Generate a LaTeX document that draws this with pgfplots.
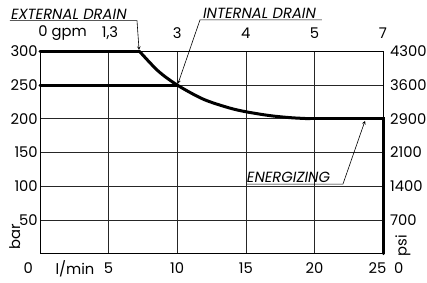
\documentclass[border=0pt]{standalone}
\usepackage{fontspec}
\setmainfont{Poppins}
\usepackage{pgfplots}
\pgfplotsset{compat=1.18}
\begin{document}
\begin{tikzpicture}[font=\fontsize{14.8}{17}\selectfont]
\begin{axis}[scale only axis, width=343bp, height=202.3bp,
  xmin=0, xmax=25, ymin=0, ymax=300,
  xtick={5,10,15,20}, ytick={50,100,150,200,250},
  xticklabels={}, yticklabels={}, major tick length=0pt,
  grid=major, grid style={black!85, line width=0.6bp},
  axis line style={black, line width=0.7bp}, clip=false]
\coordinate (SW) at (rel axis cs:0,0);
\coordinate (NE) at (rel axis cs:1,1);
% data
\addplot[black, line width=3bp, line cap=round] coordinates {(0,300) (7.25,300)};
\addplot[black, line width=3bp, line cap=round, smooth] coordinates {(7.25,300) (8.6,271) (10,250) (11.9,229) (13.8,216) (15.1,210) (16.8,204.5) (18.3,201.5) (19.7,200)};
\addplot[black, line width=3bp, line cap=round, line join=miter] coordinates {(19.7,200) (25,200) (25,0)};
\addplot[black, line width=3bp, line cap=round] coordinates {(0,250) (10,250)};
% left labels
\pgfplotsinvokeforeach{50,100,150,200,250,300}{
  \node[anchor=east, inner sep=0pt] at (axis cs:-0.15,#1) {#1};
}
\node[anchor=center] at (axis cs:-0.85,-22) {0};
\node[rotate=90] at (axis cs:-1.85,25) {bar};
% right labels
\node[anchor=west, inner sep=0pt] at (axis cs:25.5,300) {4300};
\node[anchor=west, inner sep=0pt] at (axis cs:25.5,250) {3600};
\node[anchor=west, inner sep=0pt] at (axis cs:25.5,200) {2900};
\node[anchor=west, inner sep=0pt] at (axis cs:25.5,150) {2100};
\node[anchor=west, inner sep=0pt] at (axis cs:25.5,100) {1400};
\node[anchor=west, inner sep=0pt] at (axis cs:25.5,50) {700};
\node[rotate=90] at (axis cs:26.45,12) {psi};
\node at (axis cs:26.15,-22) {0};
% bottom labels
\node at (axis cs:2.55,-22) {l/min};
\node at (axis cs:5,-22) {5};
\node at (axis cs:10,-22) {10};
\node at (axis cs:15,-22) {15};
\node at (axis cs:20,-22) {20};
\node at (axis cs:24.6,-22) {25};
% top labels
\node at (axis cs:1.65,327) {0 gpm};
\node at (axis cs:5.1,327) {1,3};
\node at (axis cs:10,327) {3};
\node at (axis cs:15,327) {4};
\node at (axis cs:20,327) {5};
\node at (axis cs:25,327) {7};
% annotations
\draw[black, line width=0.6bp, -stealth] (axis cs:-2.2,345.5) -- (axis cs:7.07,345.5) -- (axis cs:7.22,302);
\node[anchor=south west, inner sep=1pt, font=\fontsize{14.8}{17}\selectfont\itshape] at (axis cs:-2.2,346) {EXTERNAL DRAIN};
\draw[black, line width=0.6bp, -stealth] (axis cs:20.55,346.5) -- (axis cs:11.66,346.5) -- (axis cs:10.06,252);
\node[anchor=south west, inner sep=1pt, font=\fontsize{14.8}{17}\selectfont\itshape] at (axis cs:11.8,347) {INTERNAL DRAIN};
\draw[black, line width=0.6bp, -stealth] (axis cs:15.09,103) -- (axis cs:22.08,103) -- (axis cs:23.69,197);
\node[anchor=south west, inner sep=1pt, font=\fontsize{14.8}{17}\selectfont\itshape] at (axis cs:15.0,103.5) {ENERGIZING};
\end{axis}
\pgfresetboundingbox
\path[use as bounding box] ([xshift=-40bp,yshift=-28.7bp]SW) rectangle ([xshift=44bp,yshift=51.3bp]NE);
\end{tikzpicture}
\end{document}
